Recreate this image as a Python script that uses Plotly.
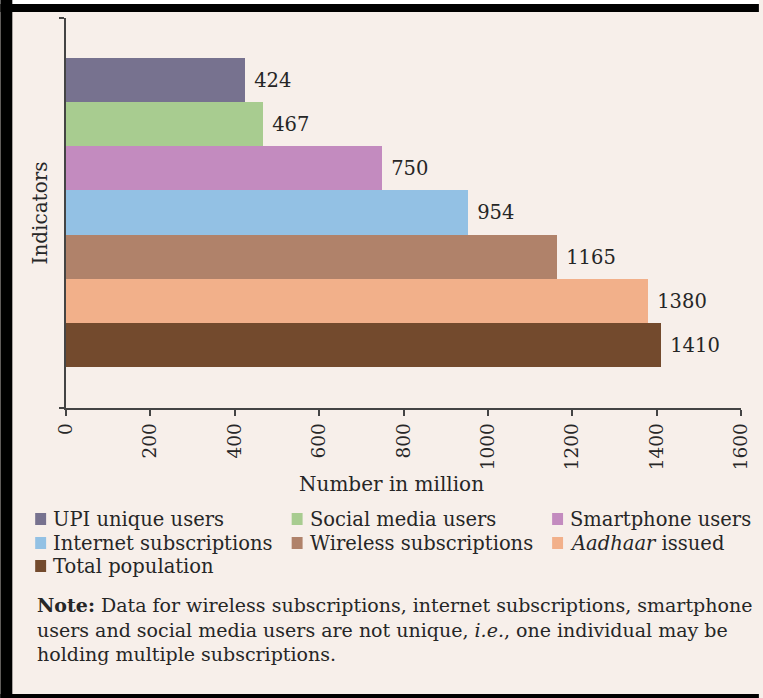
import plotly.graph_objects as go

# Digital-inclusion indicators, in million
categories = [
    "UPI unique users",
    "Social media users",
    "Smartphone users",
    "Internet subscriptions",
    "Wireless subscriptions",
    "Aadhaar issued",
    "Total population",
]
legend_labels = [
    "UPI unique users",
    "Social media users",
    "Smartphone users",
    "Internet subscriptions",
    "Wireless subscriptions",
    "<i>Aadhaar</i> issued",
    "Total population",
]
values = [424, 467, 750, 954, 1165, 1380, 1410]
colors = ["#77728f", "#a8cc90", "#c38bbf", "#93c1e4", "#b0826a", "#f2b08a", "#734a2d"]
x_ticks = [0, 200, 400, 600, 800, 1000, 1200, 1400, 1600]

W, H = 763, 698
ML, MR, MT, MB = 66, 18, 18, 290
PW, PH = W - ML - MR, H - MT - MB

SERIF = "DejaVu Serif"
INK = "#262626"
AXIS = "#444444"
BG = "#f7efea"


def px_x(px):
    return (px - ML) / PW


def px_y(py):
    return (H - MB - py) / PH


fig = go.Figure()
fig.add_trace(go.Bar(
    y=categories,
    x=values,
    orientation="h",
    marker=dict(color=colors, line=dict(width=0)),
    text=values,
    texttemplate=" %{text}",
    textposition="outside",
    textfont=dict(family=SERIF, size=19.5, color=INK),
    cliponaxis=False,
    showlegend=False,
))

y_lo, y_hi = -1.405, 7.43

fig.update_layout(
    width=W, height=H,
    margin=dict(l=ML, r=MR, t=MT, b=MB),
    paper_bgcolor=BG, plot_bgcolor=BG,
    bargap=0,
    font=dict(family=SERIF, color=INK),
    xaxis=dict(
        range=[0, 1600],
        tickvals=x_ticks,
        ticktext=[str(t) for t in x_ticks],
        tickangle=-90,
        tickfont=dict(family=SERIF, size=18.5, color=INK),
        ticks="outside", ticklen=6, tickwidth=1.5, tickcolor=AXIS,
        showline=True, linecolor=AXIS, linewidth=1.5,
        showgrid=False, zeroline=False,
    ),
    yaxis=dict(
        range=[y_hi, y_lo],
        tickvals=[y_lo, y_hi],
        ticktext=["", ""],
        ticks="outside", ticklen=5, tickwidth=1.5, tickcolor=AXIS,
        showline=True, linecolor=AXIS, linewidth=1.5,
        showgrid=False, zeroline=False,
        title=dict(text="Indicators", font=dict(family=SERIF, size=20, color=INK), standoff=4),
    ),
)

annotations = [
    dict(text="Number in million", x=px_x(393), y=px_y(484), xref="paper", yref="paper",
         xanchor="center", yanchor="middle", showarrow=False,
         font=dict(family=SERIF, size=20, color=INK)),
]
shapes = []

# Legend: three columns of coloured squares with labels
col_sq = [35, 293, 555]
row_y = [519, 543, 566]
for i, (lab, col) in enumerate(zip(legend_labels, colors)):
    cx = col_sq[i % 3]
    cy = row_y[i // 3]
    shapes.append(dict(type="rect", xref="paper", yref="paper",
                       x0=px_x(cx), x1=px_x(cx + 11), y0=px_y(cy + 6), y1=px_y(cy - 6),
                       fillcolor=col, line=dict(width=0)))
    annotations.append(dict(text=lab, x=px_x(cx + 16), y=px_y(cy), xref="paper", yref="paper",
                            xanchor="left", yanchor="middle", showarrow=False,
                            font=dict(family=SERIF, size=19.5, color=INK)))

note = ("<b>Note:</b> Data for wireless subscriptions, internet subscriptions, smartphone<br>"
        "users and social media users are not unique, <i>i.e.</i>, one individual may be<br>"
        "holding multiple subscriptions.")
annotations.append(dict(text=note, x=px_x(35), y=px_y(592), xref="paper", yref="paper",
                        xanchor="left", yanchor="top", align="left", showarrow=False,
                        font=dict(family=SERIF, size=19, color=INK)))

# Frame around the figure
shapes += [
    dict(type="rect", xref="paper", yref="paper", x0=px_x(0), x1=px_x(W), y0=px_y(4), y1=px_y(0),
         fillcolor="white", line=dict(width=0), layer="above"),
    dict(type="rect", xref="paper", yref="paper", x0=px_x(0), x1=px_x(W), y0=px_y(12), y1=px_y(4),
         fillcolor="black", line=dict(width=0), layer="above"),
    dict(type="rect", xref="paper", yref="paper", x0=px_x(0), x1=px_x(12), y0=px_y(H), y1=px_y(0),
         fillcolor="black", line=dict(width=0), layer="above"),
    dict(type="rect", xref="paper", yref="paper", x0=px_x(0), x1=px_x(W), y0=px_y(H), y1=px_y(694),
         fillcolor="black", line=dict(width=0), layer="above"),
]

fig.update_layout(annotations=annotations, shapes=shapes)
fig.write_html("out.html")
